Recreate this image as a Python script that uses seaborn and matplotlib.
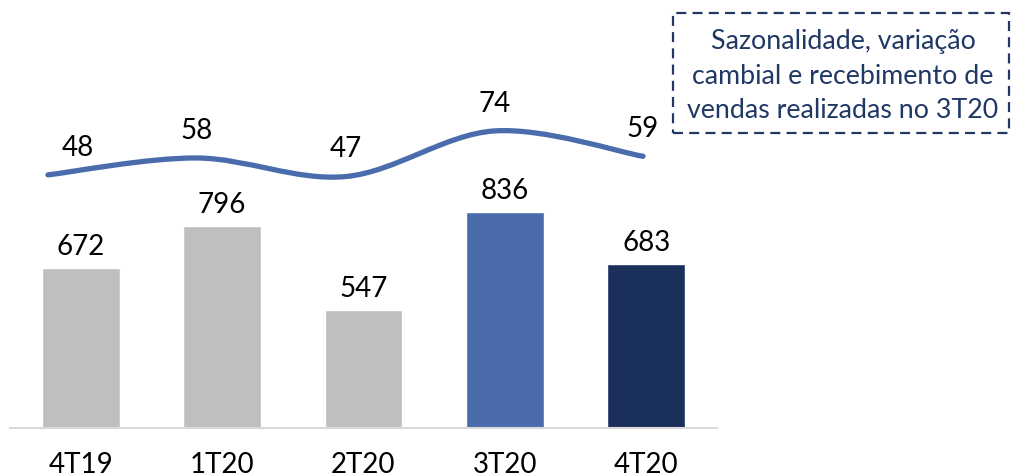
import numpy as np
import pandas as pd
import matplotlib
matplotlib.use("Agg")
import matplotlib.pyplot as plt
import seaborn as sns
from matplotlib.path import Path
from matplotlib.patches import PathPatch, Rectangle

# ---- data ----
categories = ["4T19", "1T20", "2T20", "3T20", "4T20"]
bar_values = [672, 796, 547, 836, 683]
line_values = [48, 58, 47, 74, 59]
bar_colors = ["#BFBFBF", "#BFBFBF", "#BFBFBF", "#4A6CAD", "#1B2F5B"]
line_color = "#4A6CAD"
note_lines = ["Sazonalidade, variação", "cambial e recebimento de", "vendas realizadas no 3T20"]
note_color = "#1F3864"

sns.set_theme(style="white")
plt.rcParams["font.family"] = ["Lato", "DejaVu Sans"]

W, H = 1012, 476
fig = plt.figure(figsize=(W / 100, H / 100), dpi=100)

def rect_px(x0, y0, x1, y1):
    return [x0 / W, 1 - y1 / H, (x1 - x0) / W, (y1 - y0) / H]

# ---- bars ----
ax = fig.add_axes(rect_px(10, 21, 717, 428))
df = pd.DataFrame({"cat": categories, "val": bar_values})
sns.barplot(data=df, x="cat", y="val", hue="cat", palette=bar_colors,
            legend=False, width=0.55, ax=ax, saturation=1)
ax.set_xlim(-0.5, 4.5)
ax.set_ylim(200, 1400)
for s in ["top", "left", "right"]:
    ax.spines[s].set_visible(False)
ax.spines["bottom"].set_color("#D9D9D9")
ax.spines["bottom"].set_linewidth(1.5)
ax.set_yticks([])
ax.set_xlabel("")
ax.set_ylabel("")
ax.tick_params(axis="x", length=0, pad=17, labelsize=20, labelcolor="black")
for i, v in enumerate(bar_values):
    ax.annotate(f"{v}", (i, v), xytext=(0, 6), textcoords="offset points",
                ha="center", va="bottom", fontsize=20, color="black")

# ---- smoothed line on its own axes ----
lax = fig.add_axes([48 / W, 1 - 256 / H, (643 - 48) / W, (256 - 87) / H])
lax.set_xlim(0, 4)
lax.set_ylim(0, 100)
lax.axis("off")
lax.patch.set_alpha(0)

pts = np.array([[i, v] for i, v in enumerate(line_values)], dtype=float)
n = len(pts)
verts = [tuple(pts[0])]
codes = [Path.MOVETO]
for i in range(n - 1):
    p0 = pts[i - 1] if i > 0 else pts[i]
    p1 = pts[i]
    p2 = pts[i + 1]
    p3 = pts[i + 2] if i + 2 < n else pts[i + 1]
    c1 = p1 + (p2 - p0) / 6.0
    c2 = p2 - (p3 - p1) / 6.0
    verts += [tuple(c1), tuple(c2), tuple(p2)]
    codes += [Path.CURVE4] * 3
lax.add_patch(PathPatch(Path(verts, codes), facecolor="none",
                        edgecolor=line_color, lw=3.8, capstyle="round",
                        clip_on=False))
for i, v in enumerate(line_values):
    dx = 21.5 if i == 0 else 0
    lax.annotate(f"{v}", (i, v), xytext=(dx, 19.5), textcoords="offset points",
                 ha="center", va="center", fontsize=20, color="black",
                 annotation_clip=False)

# ---- note box ----
fig.patches.append(Rectangle((673 / W, 1 - 133 / H), (1009 - 673) / W, (133 - 13) / H,
                             transform=fig.transFigure, fill=False,
                             edgecolor=note_color, lw=1.6,
                             linestyle=(0, (4.5, 2.8))))
for y, t in zip([42, 77, 110], note_lines):
    fig.text(843 / W, 1 - y / H, t, ha="center", va="center",
             fontsize=19.3, color=note_color)

fig.savefig("out.png", dpi=100)
